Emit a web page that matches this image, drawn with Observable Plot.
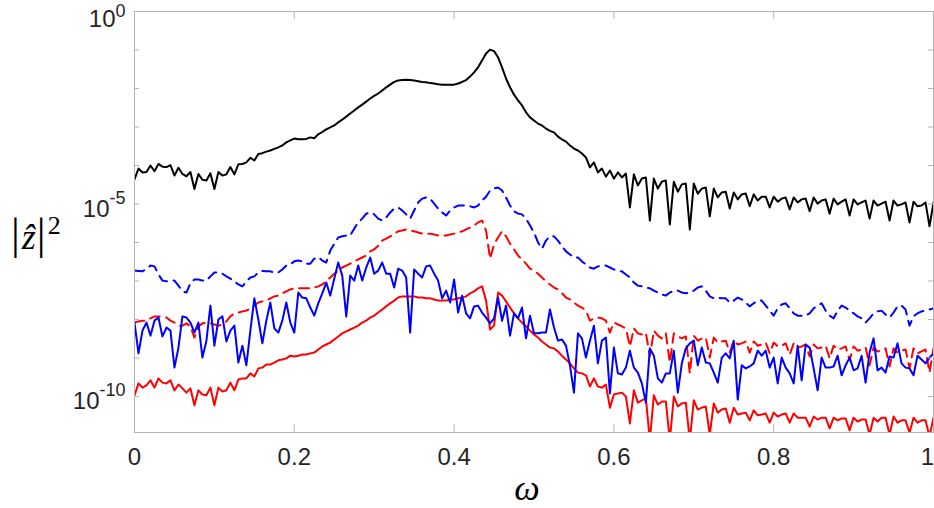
<!DOCTYPE html>
<html><head><meta charset="utf-8">
<script src="https://cdn.jsdelivr.net/npm/d3@7"></script>
<script src="https://cdn.jsdelivr.net/npm/@observablehq/plot@0.6"></script>
<style>body{margin:0;background:#fff}svg{display:block}</style>
</head><body><div id="chart"></div>
<script>
// frequency grid (step 0.005)
const omega = d3.range(201).map(i => i / 200);

// log10 of |z_hat|^2
const blackExp = [-4.36,-4.08,-4.18,-4.17,-4.00,-4.15,-3.96,-4.03,-4.04,-3.99,
-4.26,-4.06,-4.22,-4.28,-4.17,-4.61,-4.22,-4.37,-4.39,-4.20,
-4.61,-4.17,-4.26,-4.23,-4.04,-4.23,-3.97,-3.96,-3.92,-3.80,
-3.87,-3.70,-3.68,-3.64,-3.61,-3.57,-3.53,-3.48,-3.40,-3.35,
-3.30,-3.32,-3.32,-3.31,-3.27,-3.29,-3.19,-3.13,-3.06,-3.01,
-2.96,-2.88,-2.81,-2.73,-2.65,-2.57,-2.49,-2.42,-2.34,-2.26,
-2.19,-2.13,-2.05,-1.97,-1.90,-1.83,-1.79,-1.78,-1.77,-1.78,
-1.79,-1.81,-1.83,-1.84,-1.86,-1.87,-1.89,-1.90,-1.90,-1.90,
-1.90,-1.87,-1.83,-1.78,-1.69,-1.58,-1.45,-1.27,-1.09,-0.99,
-1.03,-1.19,-1.45,-1.74,-1.97,-2.16,-2.31,-2.44,-2.62,-2.75,
-2.83,-2.91,-2.96,-3.04,-3.10,-3.14,-3.25,-3.32,-3.38,-3.48,
-3.56,-3.61,-3.69,-3.79,-4.05,-3.92,-4.18,-4.08,-4.29,-4.13,
-4.34,-4.18,-4.31,-4.21,-5.09,-4.23,-4.52,-4.34,-4.31,-5.43,
-4.34,-4.60,-4.42,-4.39,-5.53,-4.42,-4.68,-4.49,-4.47,-5.66,
-4.47,-4.73,-4.60,-4.57,-5.32,-4.60,-4.83,-4.70,-4.68,-5.12,
-4.70,-4.88,-4.75,-4.73,-5.06,-4.75,-4.91,-4.81,-4.81,-5.09,
-4.81,-4.94,-4.86,-4.83,-5.14,-4.83,-4.96,-4.88,-4.86,-5.19,
-4.83,-4.99,-4.91,-4.88,-5.25,-4.86,-5.01,-4.94,-4.88,-5.30,
-4.88,-5.01,-4.96,-4.91,-5.38,-4.91,-5.04,-4.99,-4.94,-5.43,
-4.91,-5.04,-5.01,-4.96,-5.48,-4.94,-5.06,-5.04,-4.96,-5.58,
-4.96];

const blueDashExp = [-6.73,-6.74,-6.75,-6.68,-6.60,-6.62,-6.83,-6.99,-7.01,-6.99,
-6.99,-7.12,-7.27,-7.30,-7.06,-6.96,-6.96,-6.99,-6.99,-6.88,
-6.78,-6.78,-6.81,-6.88,-6.94,-7.01,-7.09,-7.14,-7.01,-6.91,
-6.88,-6.78,-6.74,-6.75,-6.75,-6.78,-6.78,-6.70,-6.60,-6.57,
-6.49,-6.47,-6.49,-6.55,-6.55,-6.42,-6.38,-6.47,-6.52,-6.21,
-6.03,-5.87,-5.84,-5.82,-5.82,-5.64,-5.48,-5.38,-5.25,-5.22,
-5.27,-5.38,-5.43,-5.35,-5.22,-5.12,-5.09,-5.17,-5.27,-5.38,
-5.17,-4.96,-4.86,-4.83,-4.86,-4.99,-5.12,-5.22,-5.30,-5.17,
-5.09,-5.04,-5.04,-5.04,-5.06,-5.09,-5.04,-4.91,-4.81,-4.65,
-4.60,-4.57,-4.65,-4.83,-5.04,-5.19,-5.25,-5.27,-5.38,-5.56,
-5.74,-6.00,-6.16,-5.95,-5.84,-5.84,-5.95,-6.10,-6.23,-6.31,
-6.39,-6.39,-6.49,-6.57,-6.65,-6.68,-6.62,-6.60,-6.60,-6.65,
-6.70,-6.73,-6.75,-6.83,-6.91,-7.04,-7.12,-7.14,-7.17,-7.19,
-7.25,-7.30,-7.35,-7.38,-7.30,-7.25,-7.25,-7.30,-7.32,-7.30,
-7.25,-7.17,-7.14,-7.25,-7.40,-7.45,-7.43,-7.45,-7.45,-7.56,
-7.51,-7.43,-7.48,-7.56,-7.66,-7.58,-7.51,-7.51,-7.64,-7.77,
-7.90,-7.71,-7.61,-7.58,-7.71,-7.84,-7.90,-7.90,-7.90,-7.84,
-7.71,-7.64,-7.58,-7.77,-7.90,-7.97,-7.77,-7.64,-7.69,-7.77,
-7.84,-7.92,-7.97,-8.08,-7.97,-7.84,-7.79,-7.77,-7.87,-7.95,
-7.82,-7.66,-7.64,-7.74,-8.16,-7.92,-7.84,-7.79,-7.77,-7.74,
-7.71];

const redDashExp = [-8.08,-8.05,-8.03,-8.03,-7.97,-7.92,-7.92,-7.92,-7.95,-8.03,
-8.08,-8.16,-8.16,-8.10,-8.18,-8.47,-8.18,-8.10,-8.08,-8.10,
-8.13,-8.16,-8.13,-8.05,-7.92,-7.84,-7.82,-7.79,-7.77,-7.71,
-7.64,-7.56,-7.53,-7.51,-7.45,-7.40,-7.38,-7.32,-7.27,-7.22,
-7.19,-7.19,-7.19,-7.19,-7.19,-7.17,-7.14,-7.09,-7.01,-6.91,
-6.81,-6.73,-6.65,-6.60,-6.55,-6.49,-6.44,-6.39,-6.34,-6.23,
-6.18,-6.08,-5.95,-5.90,-5.84,-5.77,-5.71,-5.69,-5.66,-5.69,
-5.71,-5.74,-5.77,-5.77,-5.77,-5.79,-5.82,-5.82,-5.82,-5.79,
-5.77,-5.74,-5.71,-5.66,-5.61,-5.56,-5.48,-5.43,-5.69,-6.42,
-6.05,-5.87,-5.71,-5.84,-6.03,-6.18,-6.34,-6.44,-6.55,-6.68,
-6.73,-6.81,-6.91,-7.01,-7.09,-7.17,-7.22,-7.32,-7.43,-7.48,
-7.56,-7.64,-7.69,-7.77,-8.03,-7.97,-7.95,-7.97,-8.03,-8.34,
-8.08,-8.13,-8.18,-8.23,-8.70,-8.23,-8.36,-8.39,-8.34,-8.96,
-8.29,-8.42,-8.49,-8.36,-9.12,-8.36,-8.44,-8.49,-8.44,-9.40,
-8.42,-8.55,-8.49,-8.47,-8.99,-8.47,-8.60,-8.57,-8.55,-8.86,
-8.55,-8.65,-8.62,-8.57,-8.86,-8.57,-8.68,-8.65,-8.60,-8.88,
-8.60,-8.70,-8.68,-8.62,-8.91,-8.62,-8.73,-8.70,-8.65,-8.96,
-8.65,-8.75,-8.73,-8.68,-9.01,-8.68,-8.78,-8.75,-8.70,-9.06,
-8.70,-8.81,-8.78,-8.73,-9.19,-8.73,-8.83,-8.81,-8.75,-9.22,
-8.75,-8.86,-8.81,-8.78,-9.27,-8.75,-8.88,-8.83,-8.78,-9.38,
-8.75];

const blueSolidExp = [-8.08,-8.88,-8.29,-8.08,-8.42,-8.03,-7.95,-8.44,-8.21,-8.29,
-9.25,-8.73,-7.92,-7.95,-8.08,-8.34,-8.08,-8.99,-8.55,-7.64,
-8.68,-8.00,-7.92,-8.57,-8.29,-8.16,-9.12,-8.68,-9.19,-8.29,
-7.45,-8.00,-8.62,-8.03,-7.56,-8.23,-8.34,-8.03,-7.56,-8.08,
-8.34,-7.30,-7.43,-7.45,-7.69,-7.90,-7.58,-7.32,-7.04,-7.38,
-6.94,-6.52,-6.86,-7.92,-6.86,-6.99,-6.60,-6.99,-6.65,-6.39,
-6.81,-6.73,-6.52,-6.81,-6.81,-7.17,-6.68,-6.73,-6.91,-8.34,
-6.70,-6.81,-6.91,-6.62,-6.60,-6.81,-6.99,-7.45,-7.25,-7.56,
-6.96,-7.82,-7.38,-7.84,-7.97,-7.66,-7.64,-7.82,-7.95,-8.10,
-7.97,-7.43,-8.03,-7.64,-8.42,-7.84,-7.97,-7.69,-8.49,-7.90,
-8.36,-8.36,-8.34,-8.34,-7.74,-8.21,-8.55,-8.52,-8.68,-9.19,
-9.90,-8.36,-8.49,-8.99,-8.55,-8.16,-9.14,-8.55,-8.47,-9.92,
-8.73,-9.40,-9.43,-9.25,-8.81,-9.25,-9.38,-9.66,-10.16,-8.75,
-8.94,-9.53,-9.64,-9.40,-9.40,-8.81,-9.90,-9.14,-8.75,-8.62,
-8.55,-9.19,-8.73,-9.12,-9.14,-9.38,-9.64,-8.99,-8.88,-9.01,
-8.55,-10.08,-9.19,-9.27,-9.22,-9.14,-8.81,-8.94,-8.81,-9.25,
-8.99,-9.66,-8.99,-9.25,-9.40,-9.66,-8.68,-9.58,-8.65,-8.73,
-9.27,-9.84,-8.99,-9.25,-9.25,-9.22,-8.94,-9.45,-9.19,-8.99,
-9.32,-9.27,-8.94,-9.64,-8.86,-8.49,-9.32,-9.25,-9.38,-8.96,
-8.99,-8.62,-9.14,-9.25,-9.27,-9.45,-8.94,-9.04,-9.14,-8.99,
-8.88];

const redSolidExp = [-9.97,-9.66,-9.77,-9.71,-9.58,-9.77,-9.53,-9.64,-9.66,-9.58,
-9.84,-9.69,-9.79,-9.90,-9.79,-10.23,-9.84,-9.95,-9.97,-9.77,
-10.23,-9.77,-9.87,-9.84,-9.64,-9.84,-9.56,-9.53,-9.53,-9.40,
-9.48,-9.27,-9.25,-9.17,-9.17,-9.12,-9.06,-9.04,-9.01,-8.94,
-8.96,-8.94,-8.91,-8.91,-8.88,-8.86,-8.78,-8.70,-8.65,-8.60,
-8.52,-8.44,-8.36,-8.31,-8.26,-8.21,-8.16,-8.08,-8.03,-7.95,
-7.90,-7.82,-7.74,-7.66,-7.58,-7.51,-7.43,-7.40,-7.40,-7.40,
-7.40,-7.43,-7.43,-7.45,-7.45,-7.48,-7.51,-7.51,-7.51,-7.48,
-7.48,-7.45,-7.43,-7.40,-7.32,-7.27,-7.19,-7.14,-7.51,-8.26,
-8.16,-7.30,-7.38,-7.53,-7.69,-7.84,-7.97,-8.08,-8.18,-8.29,
-8.39,-8.47,-8.57,-8.65,-8.73,-8.75,-8.83,-8.94,-9.04,-9.14,
-9.27,-9.38,-9.40,-9.45,-9.74,-9.53,-9.74,-9.77,-9.69,-10.29,
-9.95,-9.92,-9.90,-10.00,-10.70,-9.84,-10.16,-10.10,-10.05,-11.14,
-9.97,-10.21,-10.13,-10.13,-11.14,-10.00,-10.26,-10.18,-10.16,-11.14,
-10.10,-10.34,-10.29,-10.26,-10.99,-10.18,-10.42,-10.34,-10.31,-10.68,
-10.29,-10.47,-10.44,-10.42,-10.62,-10.36,-10.49,-10.47,-10.44,-10.68,
-10.42,-10.52,-10.47,-10.44,-10.68,-10.44,-10.55,-10.55,-10.55,-10.78,
-10.52,-10.60,-10.55,-10.55,-10.83,-10.55,-10.62,-10.57,-10.57,-10.88,
-10.55,-10.65,-10.60,-10.60,-10.99,-10.55,-10.65,-10.55,-10.55,-10.99,
-10.52,-10.68,-10.62,-10.62,-10.94,-10.55,-10.68,-10.62,-10.62,-11.04,
-10.55];

const xTickValues = [0, 0.2, 0.4, 0.6, 0.8, 1];
const xTickLabels = ["0", "0.2", "0.4", "0.6", "0.8", "1"];
const yTickValues = [1, 1e-1, 1e-2, 1e-3, 1e-4, 1e-5, 1e-6, 1e-7, 1e-8, 1e-9, 1e-10];
const yLabelValues = [1, 1e-5, 1e-10];
const yLabelExps = ["0", "-5", "-10"];
const yMin = 1.16e-11, yMax = 1;

const rows = omega.map((w, i) => ({
  w,
  black: 10 ** blackExp[i],
  blueDash: 10 ** blueDashExp[i],
  redDash: 10 ** redDashExp[i],
  blueSolid: 10 ** blueSolidExp[i],
  redSolid: 10 ** redSolidExp[i]
}));

const W = 934, H = 508, ML = 134, MR = 1, MT = 11, MB = 76;
const innerW = W - ML - MR, innerH = H - MT - MB;
const gray = "#b4b4b4";
const sans = "'Liberation Sans', Arial, Helvetica, sans-serif";
const serif = "'Liberation Serif', 'Times New Roman', serif";

const chart = Plot.plot({
  width: W, height: H,
  marginLeft: ML, marginRight: MR, marginTop: MT, marginBottom: MB,
  style: {background: "#fff", overflow: "visible"},
  x: {domain: [0, 1], axis: null},
  y: {type: "log", domain: [yMin, yMax], axis: null},
  marks: [
    Plot.line(rows, {x: "w", y: "black", stroke: "#000", strokeWidth: 2, clip: true}),
    Plot.line(rows, {x: "w", y: "redDash", stroke: "#ff0000", strokeWidth: 2, strokeDasharray: "10,6.5", clip: true}),
    Plot.line(rows, {x: "w", y: "blueDash", stroke: "#0000ff", strokeWidth: 2, strokeDasharray: "10,6.5", clip: true}),
    Plot.line(rows, {x: "w", y: "redSolid", stroke: "#ff0000", strokeWidth: 2, clip: true}),
    Plot.line(rows, {x: "w", y: "blueSolid", stroke: "#0000ff", strokeWidth: 2, clip: true}),
    Plot.frame({stroke: gray}),
    Plot.tickX(xTickValues, {x: d => d, stroke: gray, insetTop: innerH - 8}),
    Plot.tickX(xTickValues, {x: d => d, stroke: gray, insetBottom: innerH - 8}),
    Plot.tickY(yTickValues, {y: d => d, stroke: gray, insetRight: innerW - 5}),
    Plot.tickY(yTickValues, {y: d => d, stroke: gray, insetLeft: innerW - 5}),
    Plot.text(xTickValues.slice(0, -1), {x: d => d, text: (d, i) => xTickLabels[i], frameAnchor: "bottom",
      lineAnchor: "bottom", dy: 32, fontSize: 24, fill: "#262626", fontFamily: sans}),
    Plot.text(xTickValues.slice(-1), {x: d => d, text: () => xTickLabels[xTickLabels.length - 1], frameAnchor: "bottom",
      lineAnchor: "bottom", dy: 32, dx: -6, fontSize: 24, fill: "#262626", fontFamily: sans})
  ]
});
document.getElementById("chart").appendChild(chart);

const svg = d3.select(chart);
const ys = chart.scale("y");
yLabelValues.forEach((v, i) => {
  const yy = ys.apply(v);
  const t = svg.append("text")
    .attr("x", 125.5).attr("y", yy + (i === 0 ? 16 : 13.5))
    .attr("text-anchor", "end")
    .attr("font-family", sans).attr("font-size", 24).attr("fill", "#262626");
  t.append("tspan").text("10");
  t.append("tspan").attr("dy", i === 0 ? -10.5 : -13).attr("font-size", 18).text(yLabelExps[i]);
});

// y-axis title |ẑ|^2
const yt = svg.append("text").attr("x", 11).attr("y", 249)
  .attr("text-anchor", "start")
  .attr("font-family", serif).attr("fill", "#000");
yt.append("tspan").attr("font-size", 44).text("|");
yt.append("tspan").attr("font-size", 36).attr("font-style", "italic").attr("dx", 2).text("ẑ");
yt.append("tspan").attr("font-size", 44).attr("dx", 1).text("|");
yt.append("tspan").attr("font-size", 26).attr("dy", -15).attr("dx", 2).text("2");

// x-axis title ω
svg.append("text").attr("x", 527).attr("y", 500).attr("text-anchor", "middle")
  .attr("font-family", serif).attr("font-style", "italic").attr("font-size", 36)
  .attr("fill", "#000").text("ω");
</script>
</body></html>
